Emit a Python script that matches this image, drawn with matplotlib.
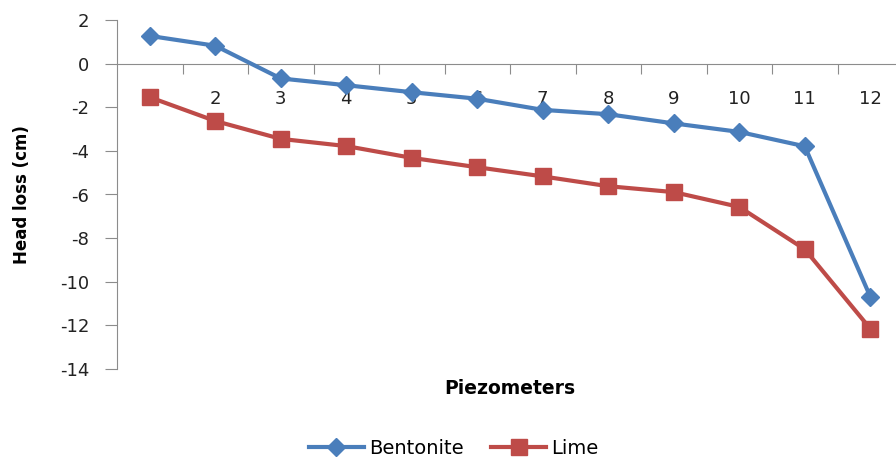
import numpy as np
import matplotlib
matplotlib.use("Agg")
import matplotlib.pyplot as plt

# data
piezometers = [str(i) for i in range(1, 13)]
bentonite = [1.27, 0.82, -0.68, -0.99, -1.31, -1.61, -2.12, -2.32, -2.74, -3.13, -3.79, -10.68]
lime = [-1.54, -2.63, -3.45, -3.78, -4.32, -4.75, -5.17, -5.62, -5.89, -6.57, -8.51, -12.15]

blue = '#4A7EBB'
red = '#BE4B48'
axis_gray = '#8C8C8C'

plt.rcParams['font.family'] = ['DejaVu Sans']
plt.rcParams['axes.unicode_minus'] = False

fig = plt.figure(figsize=(8.96, 4.61), dpi=100)
W, H = 896, 461
left, right, top, bottom = 117, 903, 20, 369
ax = fig.add_axes([left / W, 1 - bottom / H, (right - left) / W, (bottom - top) / H])

x = np.arange(1, len(piezometers) + 1)
ax.plot(x, bentonite, color=blue, lw=3, marker='D', ms=9, mec=blue, mfc=blue,
        label='Bentonite', clip_on=False, zorder=3)
ax.plot(x, lime, color=red, lw=3, marker='s', ms=11, mec=red, mfc=red,
        label='Lime', clip_on=False, zorder=3)

ax.set_xlim(0.5, len(piezometers) + 0.5)
ax.set_ylim(-14, 2)
ax.set_yticks(np.arange(-14, 3, 2))
ax.set_axisbelow(True)

for s in ['top', 'right']:
    ax.spines[s].set_visible(False)
ax.spines['bottom'].set_position(('data', 0))
ax.spines['left'].set_color(axis_gray)
ax.spines['bottom'].set_color(axis_gray)

# category boundaries as ticks, labels at centres
ax.set_xticks(np.arange(1.5, len(piezometers) + 0.5, 1))
ax.set_xticklabels([])
ax.set_xticks(x, minor=True)
ax.set_xticklabels(piezometers, minor=True)
ax.tick_params(axis='x', which='major', direction='out', length=7, color=axis_gray)
ax.tick_params(axis='x', which='minor', length=0, pad=19, labelsize=13, labelcolor='#222222')
ax.tick_params(axis='y', direction='out', length=9, color=axis_gray, pad=11,
               labelsize=13, labelcolor='#222222')

fig.text(510 / W, 1 - 388 / H, 'Piezometers', ha='center', va='center',
         fontsize=13.5, fontweight='bold')
fig.text(22 / W, 1 - 195 / H, 'Head loss (cm)', ha='center', va='center',
         rotation=90, fontsize=12, fontweight='bold')

fig.legend(loc='center', bbox_to_anchor=(454 / W, 1 - 448 / H), ncol=2, frameon=False,
           fontsize=14, handlelength=2.8, columnspacing=1.4, handletextpad=0.3,
           markerscale=1.0)

fig.savefig('out.png', dpi=100)
